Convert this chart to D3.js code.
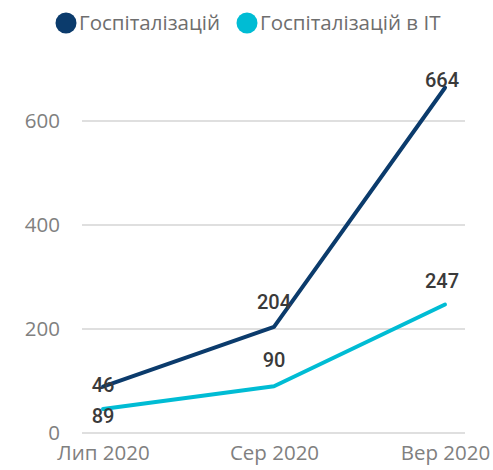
<!DOCTYPE html>
<html>
<head>
<meta charset="utf-8">
<script src="https://cdn.jsdelivr.net/npm/d3@7"></script>
<style>
  html, body { margin: 0; padding: 0; background: #fff; }
  svg { display: block; }
</style>
</head>
<body>
<svg id="chart" width="493" height="470"></svg>
<script>
// Monthly hospitalisations, total and in intensive therapy
const months = ["Лип 2020", "Сер 2020", "Вер 2020"];
const hospital = [89, 204, 664];
const hospitalIT = [46, 90, 247];
const yTicks = [0, 200, 400, 600];
const seriesNames = ["Госпіталізацій", "Госпіталізацій в ІТ"];
const colors = ["#0b3b6c", "#00bcd4"];

const svg = d3.select("#chart");
const font = "'Open Sans', 'Noto Sans', sans-serif";

const x = d3.scalePoint().domain(months).range([103, 445]);
const y = d3.scaleLinear().domain([0, 600]).range([433, 121]);

// gridlines
svg.append("g")
  .selectAll("line")
  .data(yTicks)
  .join("line")
  .attr("x1", 82).attr("x2", 465)
  .attr("y1", d => y(d)).attr("y2", d => y(d))
  .attr("stroke", "#d4d4d4").attr("stroke-width", 1.5);

// y axis labels
const yAxis = d3.axisLeft(y).tickValues(yTicks).tickSize(0).tickPadding(0);
svg.append("g")
  .attr("transform", "translate(60,0)")
  .call(yAxis)
  .call(g => g.select(".domain").remove())
  .call(g => g.selectAll("text")
    .attr("font-family", font).attr("font-size", 20.5).attr("font-weight", 400).attr("fill", "#808080"));

// x axis labels
const xAxis = d3.axisBottom(x).tickSize(0).tickPadding(0);
svg.append("g")
  .attr("transform", "translate(0,445)")
  .call(xAxis)
  .call(g => g.select(".domain").remove())
  .call(g => g.selectAll("text")
    .attr("font-family", font).attr("font-size", 20.5).attr("font-weight", 400).attr("fill", "#808080"));

// lines
const line = d3.line().x((d, i) => x(months[i])).y(d => y(d));
const series = [
  { name: seriesNames[0], values: hospital, color: colors[0], offsets: [29, -25, -8] },
  { name: seriesNames[1], values: hospitalIT, color: colors[1], offsets: [-24, -26, -24] }
];

series.forEach(s => {
  svg.append("path")
    .datum(s.values)
    .attr("d", line)
    .attr("fill", "none")
    .attr("stroke", s.color)
    .attr("stroke-width", 4)
    .attr("stroke-linecap", "round")
    .attr("stroke-linejoin", "round");
});

// data labels
series.forEach(s => {
  svg.append("g")
    .selectAll("text")
    .data(s.values)
    .join("text")
    .attr("x", (d, i) => x(months[i]) - (i === 2 ? 3 : 0))
    .attr("y", (d, i) => y(d) + s.offsets[i])
    .attr("dy", "0.35em")
    .attr("text-anchor", "middle")
    .attr("font-family", "'Roboto', sans-serif")
    .attr("font-weight", 500)
    .attr("font-size", 20)
    .attr("fill", "#3a3a3a")
    .text(d => d);
});

// legend
const legendX = [66, 247];
const legend = svg.append("g");
series.forEach((s, i) => {
  legend.append("circle")
    .attr("cx", legendX[i]).attr("cy", 23).attr("r", 10.5)
    .attr("fill", s.color);
  legend.append("text")
    .attr("x", legendX[i] + 13).attr("y", 23)
    .attr("dy", "0.35em")
    .attr("font-family", font).attr("font-size", 20.5).attr("font-weight", 400)
    .attr("fill", "#6e6e6e")
    .text(s.name);
});
</script>
</body>
</html>
